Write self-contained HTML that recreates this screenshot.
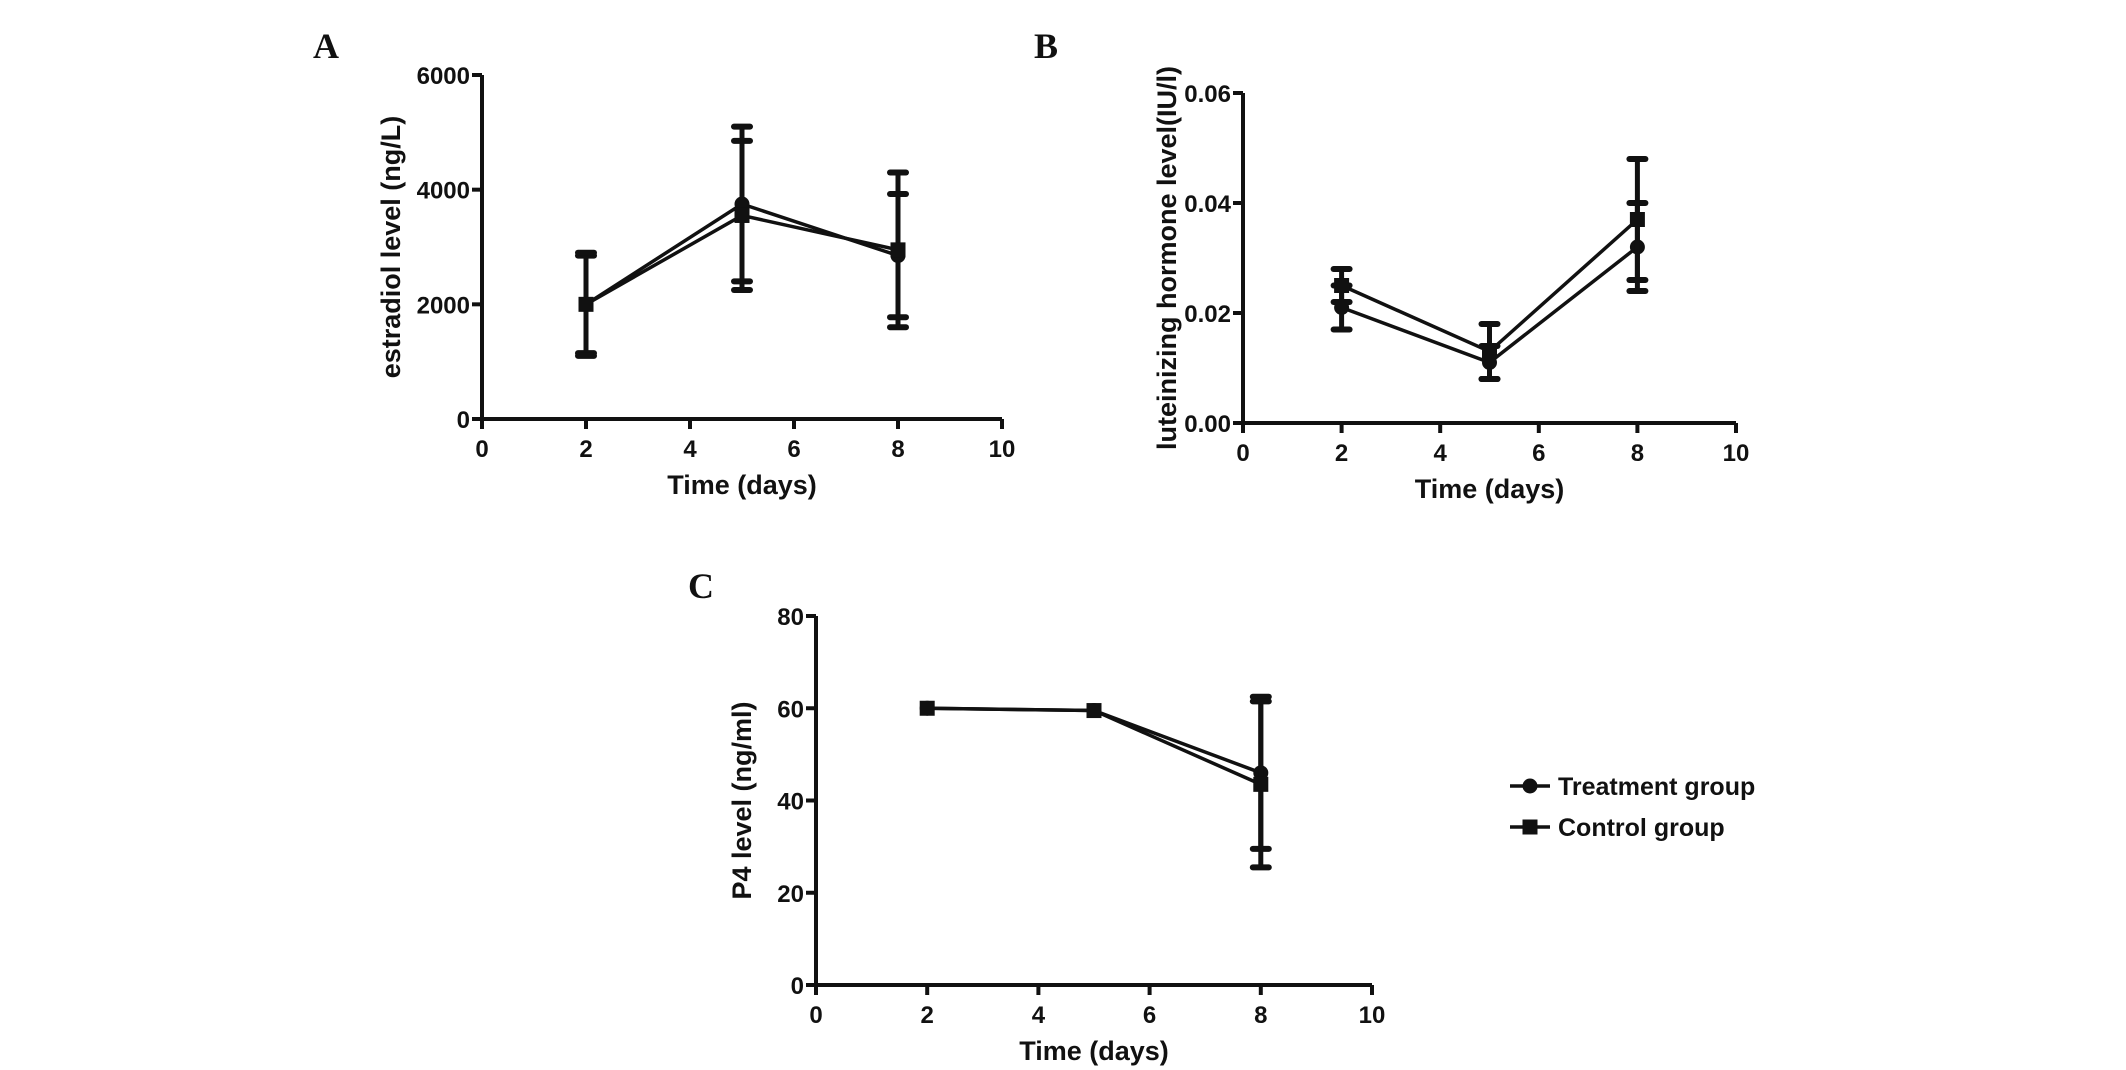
<!DOCTYPE html>
<html><head><meta charset="utf-8"><style>
html,body{margin:0;padding:0;background:#fff;}
svg{display:block;}
text{font-family:"Liberation Sans",Arial,sans-serif;font-weight:bold;fill:#111;}
.panel{font-family:"Liberation Serif",serif;font-size:36px;}
</style></head><body>
<svg id="fig" width="2126" height="1070" viewBox="0 0 2126 1070"></svg>
<script>
const days = [2, 5, 8];
const xTicks = [0, 2, 4, 6, 8, 10];
// Panel A: estradiol
const aTreat = [2000, 3750, 2850];
const aTreatErr = [850, 1350, 1075];
const aCtrl = [2000, 3550, 2950];
const aCtrlErr = [900, 1300, 1350];
const aTicks = [0, 2000, 4000, 6000];
const aTickLabels = ["0", "2000", "4000", "6000"];
// Panel B: luteinizing hormone
const bTreat = [0.021, 0.011, 0.032];
const bTreatErr = [0.004, 0.003, 0.008];
const bCtrl = [0.025, 0.013, 0.037];
const bCtrlErr = [0.003, 0.005, 0.011];
const bTicks = [0, 0.02, 0.04, 0.06];
const bTickLabels = ["0.00", "0.02", "0.04", "0.06"];
// Panel C: P4
const cTreat = [60, 59.5, 46];
const cTreatErr = [0, 0, 16.5];
const cCtrl = [60, 59.5, 43.5];
const cCtrlErr = [0, 0, 18];
const cTicks = [0, 20, 40, 60, 80];
const cTickLabels = ["0", "20", "40", "60", "80"];

const NS = "http://www.w3.org/2000/svg";
const svg = document.getElementById('fig');
function mk(tag, attrs, parent) {
  const e = document.createElementNS(NS, tag);
  for (const k in attrs) e.setAttribute(k, attrs[k]);
  (parent || svg).appendChild(e);
  return e;
}
function drawPanel(cfg) {
  const g = mk('g', {});
  
  
  const sx = v => cfg.x0 + (v - 0) / 10 * (cfg.x1 - cfg.x0);
  const sy = v => cfg.y0 - v / cfg.ymax * (cfg.y0 - cfg.y1);
  const ax = mk('path', {d: `M${cfg.x0},${cfg.y1} L${cfg.x0},${cfg.y0} L${cfg.x1},${cfg.y0}`, fill: 'none', stroke: '#111', 'stroke-width': 4}, g);
  
  
  xTicks.forEach(t => {
    mk('line', {x1: sx(t), x2: sx(t), y1: cfg.y0, y2: cfg.y0 + 10, stroke: '#111', 'stroke-width': 4}, g);
    const tx = mk('text', {x: sx(t), y: cfg.y0 + 38, 'text-anchor': 'middle', 'font-size': 24}, g);
    tx.textContent = t;
    
    
  });
  cfg.ticks.forEach((t, i) => {
    mk('line', {x1: cfg.x0 - 10, x2: cfg.x0, y1: sy(t), y2: sy(t), stroke: '#111', 'stroke-width': 4}, g);
    const tx = mk('text', {x: cfg.x0 - 12, y: sy(t) + 9, 'text-anchor': 'end', 'font-size': 24}, g);
    tx.textContent = cfg.tickLabels[i];
    
    
  });
  const xt = mk('text', {x: (cfg.x0 + cfg.x1) / 2, y: cfg.y0 + 75, 'text-anchor': 'middle', 'font-size': 27}, g);
  xt.textContent = 'Time (days)';
  
  
  const yt = mk('text', {x: 0, y: 0, 'text-anchor': 'middle', 'font-size': 27, transform: `translate(${cfg.ytx},${(cfg.y0 + cfg.y1) / 2}) rotate(-90)`}, g);
  yt.textContent = cfg.ytitle;
  
  
  const pl = mk('text', {x: cfg.lx, y: cfg.ly, class: 'panel'}, g);
  pl.textContent = cfg.label;
  
  
  [[cfg.treat, cfg.treatErr, 'treatment'], [cfg.ctrl, cfg.ctrlErr, 'control']].forEach(([vals, errs, nm]) => {
    const sg = mk('g', {}, g);
    
    
    vals.forEach((v, i) => {
      if (errs[i] <= 0) return;
      const x = sx(days[i]);
      const eb = mk('g', {stroke: '#111', 'stroke-linecap': 'round'}, sg);
      
      
      mk('line', {x1: x, x2: x, y1: sy(v + errs[i]), y2: sy(v - errs[i]), 'stroke-width': 5}, eb);
      mk('line', {x1: x - 8, x2: x + 8, y1: sy(v + errs[i]), y2: sy(v + errs[i]), 'stroke-width': 6}, eb);
      mk('line', {x1: x - 8, x2: x + 8, y1: sy(v - errs[i]), y2: sy(v - errs[i]), 'stroke-width': 6}, eb);
    });
    const pts = vals.map((v, i) => `${sx(days[i])},${sy(v)}`).join(' ');
    const ln = mk('polyline', {points: pts, fill: 'none', stroke: '#111', 'stroke-width': 3.5}, sg);
    
    
    vals.forEach((v, i) => {
      let m;
      if (nm === 'treatment') m = mk('circle', {cx: sx(days[i]), cy: sy(v), r: 7.5, fill: '#111'}, sg);
      else m = mk('rect', {x: sx(days[i]) - 7.5, y: sy(v) - 7.5, width: 15, height: 15, fill: '#111'}, sg);
      
      
    });
  });
}
drawPanel({name: 'panel-a-estradiol', label: 'A', lx: 313, ly: 58, x0: 482, x1: 1002, y0: 419, y1: 75, ymax: 6000,
  ticks: aTicks, tickLabels: aTickLabels, ytx: 400, ytitle: 'estradiol level (ng/L)',
  treat: aTreat, treatErr: aTreatErr, ctrl: aCtrl, ctrlErr: aCtrlErr});
drawPanel({name: 'panel-b-lh', label: 'B', lx: 1034, ly: 58, x0: 1243, x1: 1736, y0: 423, y1: 93, ymax: 0.06,
  ticks: bTicks, tickLabels: bTickLabels, ytx: 1176, ytitle: 'luteinizing hormone level(IU/l)',
  treat: bTreat, treatErr: bTreatErr, ctrl: bCtrl, ctrlErr: bCtrlErr});
drawPanel({name: 'panel-c-p4', label: 'C', lx: 688, ly: 598, x0: 816, x1: 1372, y0: 985, y1: 616, ymax: 80,
  ticks: cTicks, tickLabels: cTickLabels, ytx: 751, ytitle: 'P4 level (ng/ml)',
  treat: cTreat, treatErr: cTreatErr, ctrl: cCtrl, ctrlErr: cCtrlErr});

// Legend
const lg = mk('g', {});


[['Treatment group', 786, 'circle'], ['Control group', 827, 'square']].forEach(([t, y, shape]) => {
  const e = mk('g', {}, lg);
  
  
  mk('line', {x1: 1510, x2: 1550, y1: y, y2: y, stroke: '#111', 'stroke-width': 3.5}, e);
  if (shape === 'circle') mk('circle', {cx: 1530, cy: y, r: 7.5, fill: '#111'}, e);
  else mk('rect', {x: 1522.5, y: y - 7.5, width: 15, height: 15, fill: '#111'}, e);
  const tx = mk('text', {x: 1558, y: y + 9, 'font-size': 25}, e);
  tx.textContent = t;
});
</script>
</body></html>
